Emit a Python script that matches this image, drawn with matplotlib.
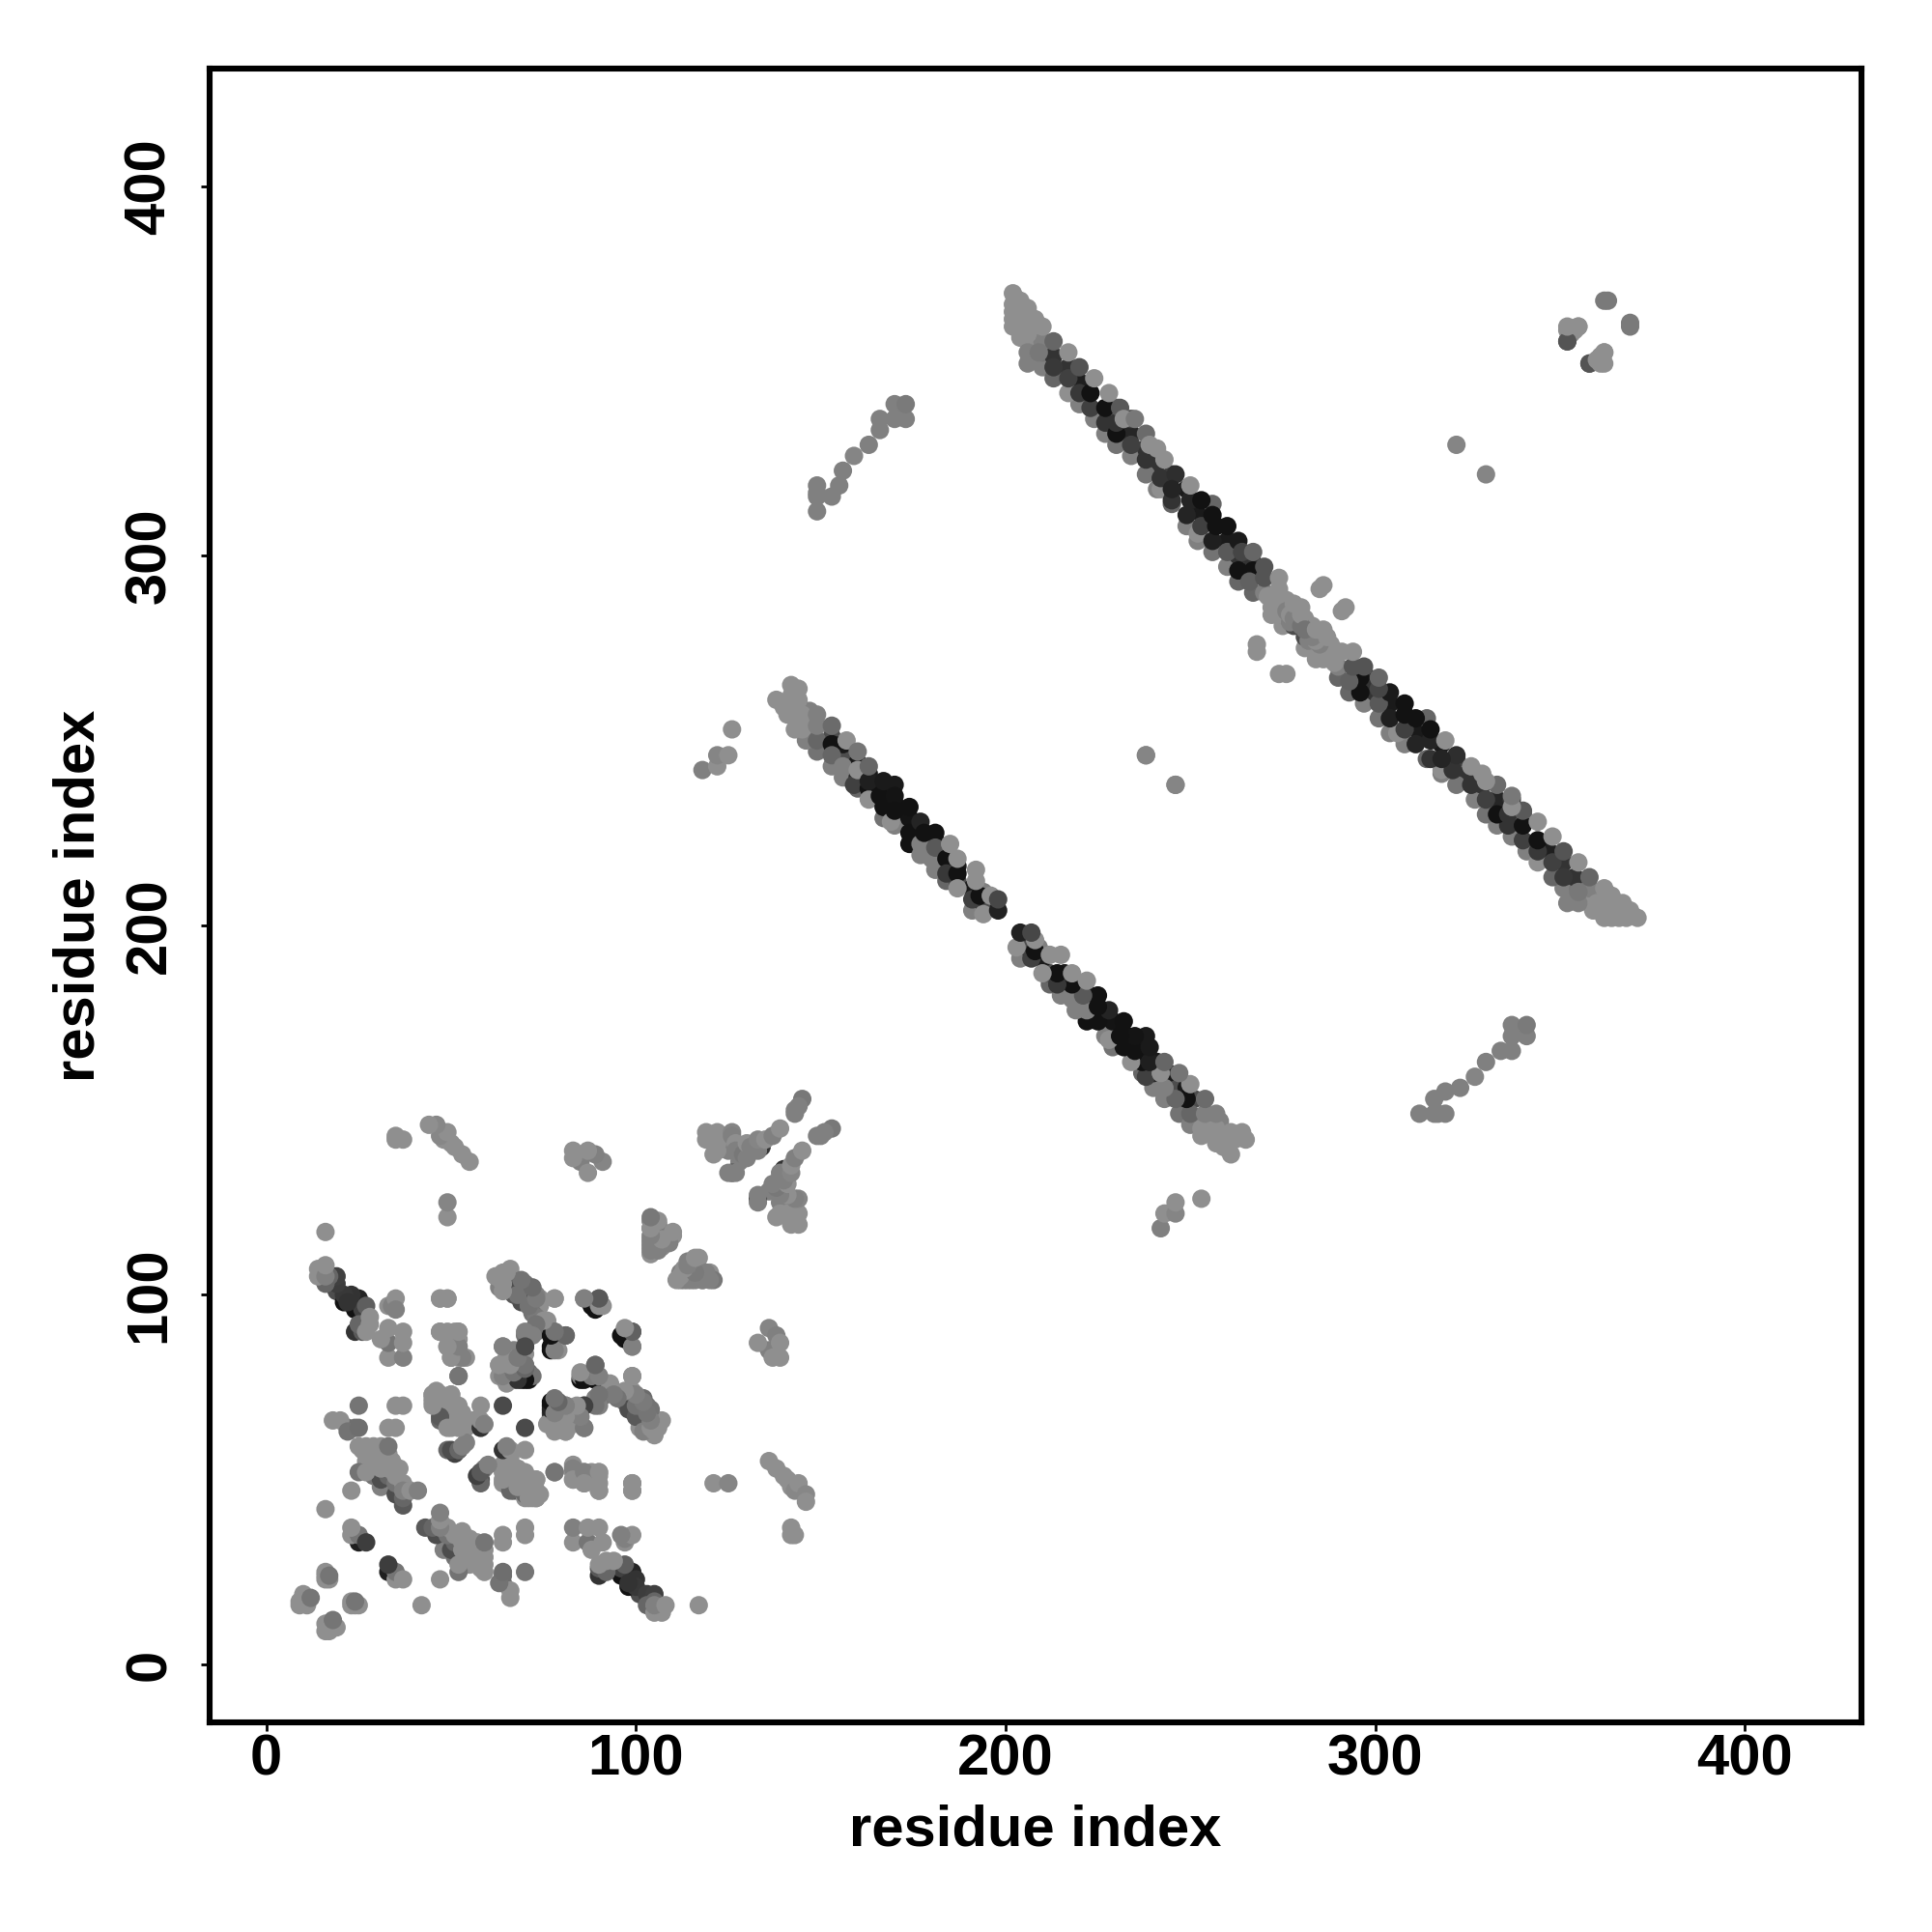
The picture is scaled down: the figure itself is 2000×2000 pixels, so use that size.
import matplotlib
matplotlib.use('Agg')
import matplotlib.pyplot as plt

# residue contacts, (i, j, grey level); the map is symmetric so only i < j is listed
L = 0.56
M = 0.46
D = 0.3
K = 0.07

# filled-in parts of the dense patches, drawn first
patch_under = [
    (46, 72, L), (48, 72, L), (50, 71, L), (48, 70, 0.5), (50, 69, L), (52, 68, L),
    (53, 68, L), (54, 66, L), (47, 69, 0.45), (49, 67, L), (51, 66, L), (53, 64, L),
    (55, 65, L), (26, 58, L), (28, 58, L), (30, 58, L), (28, 55, L), (30, 55, L),
    (32, 55, L), (28, 53, L), (29, 51, 0.45), (33, 49, 0.4), (35, 48, 0.35), (37, 48, 0.4),
    (34, 55, L), (27, 55, L), (31, 48, 0.5), (66, 50, L), (68, 49, L), (70, 48, 0.5),
    (72, 47, L), (72, 45, L), (74, 46, L), (69, 47, 0.45), (66, 48, L),
    (103, 68, 0.45), (105, 66, L), (103, 70, 0.45), (100, 71, 0.45), (101, 66, 0.4),
    (104, 63, L), (106, 64, L), (103, 66, L), (107, 66, L),
    (65, 103, L), (67, 103, 0.5), (72, 99, 0.45), (74, 99, L), (72, 101, 0.5),
    (65, 82, L), (66, 84, L), (67, 83, L), (65, 79, L), (68, 80, 0.5), (67, 77, 0.4),
    (105, 115, 0.5), (105, 118, 0.5), (107, 117, L), (109, 115, L), (106, 113, L),
    (113, 104, 0.5), (113, 107, 0.5), (115, 104, 0.5), (116, 107, L), (117, 105, L),
    (119, 105, L), (121, 138, L), (124, 141, L), (124, 143, L), (125, 139, 0.5),
    (128, 136, 0.5), (26, 92, 0.4), (18, 103, 0.4), (19, 101, 0.3),
]

# the two ends and the crossing of the sheets
sheet_ends_under = [
    (202, 364, L), (204, 366, L), (206, 358, L), (206, 365, L), (204, 362, L),
    (208, 360, L), (204, 359, L), (210, 356, L), (204, 369, L), (208, 364, L),
    (142, 262, L), (142, 258, L), (144, 256, L), (146, 255, L), (140, 259, L),
    (146, 252, L), (147, 258, 0.5), (148, 252, 0.5),
    (275, 281, L), (276, 282, L), (273, 288, L), (276, 288, L), (272, 284, L),
    (275, 284, 0.5), (278, 285, L), (279, 283, L), (281, 283, L),
]

corner_contacts = [
    (9, 16, L), (9, 17, L), (10, 19, L), (11, 16, L), (12, 18, M),
    (16, 23, L), (16, 24, L), (16, 25, L), (17, 23, L), (17, 24, M),
    (16, 42, L), (16, 117, L), (23, 47, L),
    (25, 33, 0.12), (23, 35, L), (25, 35, M), (23, 37, L), (27, 33, 0.24),
]

strand_14 = [
    (24, 96, K), (21, 98, K), (25, 99, 0.14), (23, 100, 0.2), (21, 100, 0.22),
    (19, 103, 0.24), (19, 105, 0.25), (26, 96, 0.25), (22, 98, 0.2),
    (24, 90, 0.2), (26, 90, 0.35), (25, 92, 0.4), (16, 103, 0.4), (17, 105, 0.4),
    (14, 105, L), (14, 107, L), (16, 105, 0.5), (16, 108, L), (27, 97, 0.37),
    (27, 90, L), (28, 92, L), (28, 94, L),
]

block_25_59 = [
    (25, 52, 0.45), (31, 50, 0.3), (35, 46, 0.3), (37, 43, 0.35), (33, 51, 0.4),
    (37, 45, 0.4), (35, 49, 0.45), (25, 59, L), (27, 59, L), (29, 59, L),
    (31, 59, L), (27, 57, L), (29, 57, L), (31, 57, L), (33, 57, L), (27, 52, L),
    (31, 53, L), (33, 53, L), (35, 51, L), (37, 49, L), (37, 47, 0.5), (36, 53, L),
    (39, 47, L), (33, 59, M), (41, 47, 0.5), (22, 64, 0.45), (24, 64, 0.43),
    (18, 66, L), (20, 66, L), (22, 63, 0.45), (25, 64, 0.43), (33, 64, L),
    (35, 64, L), (25, 70, M), (35, 70, L), (37, 70, L),
]

block_33_99 = [
    (33, 83, L), (33, 87, M), (37, 83, 0.5), (37, 87, L), (37, 90, L), (33, 91, L),
    (31, 88, L), (33, 97, L), (34, 97, 0.5), (35, 99, L), (35, 96, 0.5),
    (47, 90, L), (49, 90, L), (51, 90, L), (52, 90, L), (49, 86, L), (52, 86, 0.5),
    (52, 88, L), (50, 83, L), (52, 83, L), (54, 83, L), (47, 99, L), (49, 99, L),
    (52, 78, M), (49, 121, L), (49, 125, 0.52),
    (55, 136, L), (53, 138, L), (51, 140, L), (50, 141, L), (48, 142, L),
    (47, 143, 0.53), (49, 144, L), (46, 146, 0.53), (44, 146, L),
    (37, 142, L), (35, 142, L), (35, 143, L),
]

block_45_73 = [
    (47, 66, 0.4), (46, 70, 0.4), (51, 65, 0.4), (45, 73, L), (47, 73, L), (50, 73, L),
    (45, 71, L), (47, 71, L), (49, 70, L), (48, 68, L), (51, 68, L), (52, 70, L),
    (53, 66, L), (52, 66, L), (56, 66, L), (50, 64, L), (54, 64, L),
    (58, 64, 0.2), (58, 70, L), (58, 66, L), (59, 65, 0.5),
    (49, 58, 0.4), (51, 57, 0.25), (52, 58, 0.35), (54, 60, 0.5),
    (64, 70, 0.29), (58, 50, 0.3), (58, 52, 0.4), (59, 53, 0.5),
    (64, 52, L), (67, 47, 0.35), (67, 52, L), (70, 51, L), (64, 49, L),
    (73, 50, L), (73, 45, L), (70, 45, L), (73, 47, L), (78, 52, M),
    (83, 53, 0.5), (83, 50, L), (86, 52, 0.5), (90, 52, L), (90, 47, L), (86, 49, L),
    (99, 49, L), (99, 47, L),
]

block_63_106 = [
    (69, 98, 0.3), (67, 100, 0.35), (70, 100, 0.45), (63, 102, 0.5), (63, 105, L),
    (65, 106, L), (64, 104, L), (66, 104, 0.5), (68, 103, 0.46), (71, 102, 0.48),
    (73, 100, 0.5), (74, 97, L), (72, 95, 0.45), (74, 93, L), (76, 93, L),
    (73, 94, 0.48), (73, 90, 0.45), (70, 89, 0.45),
    (70, 86, 0.25), (64, 86, 0.48), (67, 85, 0.5), (70, 84, L),
    (63, 81, L), (63, 78, L), (67, 81, L), (66, 79, L), (65, 76, L), (69, 77, 0.15),
    (71, 77, K), (68, 78, 0.5), (70, 81, 0.5), (71, 79, 0.4), (72, 78, 0.45),
    (77, 86, K), (78, 88, 0.48), (78, 90, 0.5), (79, 85, L), (81, 89, 0.4),
    (78, 99, L), (89, 96, K), (86, 99, 0.5), (90, 99, 0.38), (91, 97, L),
    (97, 88, K), (97, 90, L), (99, 90, 0.35), (99, 86, 0.5), (99, 78, L),
    (85, 77, K), (85, 78, 0.5), (89, 77, K), (89, 81, 0.4), (90, 78, 0.45),
    (93, 75, L), (92, 73, 0.45), (89, 72, 0.5), (90, 70, 0.5),
    (77, 70, K), (77, 68, 0.2), (78, 64, 0.5), (79, 67, 0.45), (80, 70, 0.4), (81, 70, 0.45),
    (81, 63, L), (81, 66, L), (83, 65, L), (83, 68, 0.48), (86, 64, 0.5), (86, 70, 0.29),
    (98, 70, 0.3), (102, 67, 0.3), (97, 71, 0.45), (99, 73, 0.48), (100, 68, 0.45),
    (102, 72, 0.42), (101, 64, L), (103, 64, L), (105, 62, L), (104, 69, 0.45),
    (106, 65, L),
]

block_104_153 = [
    (104, 120, 0.5), (104, 118, 0.5), (104, 114, 0.5), (104, 111, L), (105, 112, L),
    (106, 119, 0.5), (106, 116, 0.48), (107, 113, L), (108, 114, 0.5), (110, 116, L),
    (112, 104, 0.5), (112, 106, 0.5), (114, 105, 0.5), (114, 109, 0.5), (115, 107, L),
    (116, 104, 0.5), (117, 110, L), (118, 104, L), (120, 106, L), (121, 104, 0.47),
    (136, 85, 0.5), (133, 87, L), (136, 91, 0.52), (138, 89, 0.5), (139, 87, L),
    (137, 83, L), (139, 83, L),
    (126, 133, 0.25), (125, 133, 0.5), (127, 133, 0.5), (119, 142, L), (119, 144, L),
    (122, 144, L), (122, 141, L), (122, 139, L), (126, 144, 0.52), (126, 143, 0.5),
    (127, 141, L), (127, 139, 0.5), (129, 138, 0.47), (130, 137, 0.5), (130, 141, L),
    (134, 140, 0.2), (131, 140, 0.5), (133, 139, 0.5), (133, 142, 0.52), (135, 142, L),
    (137, 143, 0.5), (139, 145, L), (143, 149, 0.5), (143, 150, 0.5),
    (145, 153, 0.47), (144, 151, 0.5),
]

far_contacts = [
    (118, 242, 0.5), (122, 243, L), (122, 246, 0.52), (125, 246, L), (126, 253, L),
    (238, 246, 0.52), (246, 238, 0.52), (322, 330, 0.52),
    (285, 291, L), (286, 292, L), (268, 274, L), (268, 276, L),
    (362, 369, 0.48), (363, 369, 0.48), (352, 358, 0.33), (352, 361, L),
    (354, 361, L), (355, 362, L), (353, 360, L), (358, 352, 0.33), (362, 355, L),
    (362, 352, L),
    (149, 312, 0.5), (149, 316, 0.5), (149, 317, 0.5), (149, 319, 0.5), (153, 316, 0.5),
    (155, 319, 0.5), (156, 323, 0.5), (159, 327, 0.52), (163, 330, 0.5), (166, 334, 0.5),
    (166, 337, 0.5), (170, 337, 0.5), (170, 341, 0.5), (173, 337, 0.5), (173, 341, 0.48),
]

# weaker and buried contacts of the two sheets, they sit under the ones further down
sheet_404_under = [
    (149, 247, 0.45), (146, 250, 0.5), (153, 251, 0.3), (153, 243, 0.5), (156, 246, 0.3),
    (156, 249, 0.1), (156, 240, 0.5), (160, 240, 0.15), (160, 244, 0.1), (160, 237, 0.4),
    (163, 241, 0.1), (167, 236, 0.1), (167, 229, 0.45), (170, 238, 0.1), (170, 233, K),
    (170, 227, 0.5), (174, 229, 0.08), (174, 222, K), (177, 225, K), (177, 219, 0.5),
    (181, 223, K), (181, 215, 0.5), (184, 220, 0.2), (184, 212, 0.4), (187, 216, 0.1),
    (187, 212, 0.3), (191, 210, 0.1), (191, 204, 0.5), (194, 206, 0.2), (194, 209, 0.5),
    (196, 205, 0.3),
]

sheet_404 = [
    (142, 265, L), (144, 264, L), (144, 261, L), (138, 261, L), (141, 257, L),
    (143, 253, L), (145, 253, L), (145, 257, L), (149, 250, 0.4), (149, 257, 0.5),
    (149, 254, 0.5), (153, 249, K), (153, 246, 0.4), (153, 254, 0.42), (156, 243, 0.5),
    (157, 250, L), (159, 238, 0.25), (160, 242, L), (160, 247, M), (163, 237, K),
    (163, 234, L), (163, 239, 0.12), (163, 243, 0.4), (166, 235, K), (167, 232, K),
    (167, 239, 0.1), (170, 235, 0.08), (169, 228, L), (170, 231, K), (174, 232, K),
    (174, 225, K), (177, 222, 0.5), (177, 228, 0.14), (178, 225, K), (181, 225, K),
    (180, 218, 0.5), (181, 221, 0.35), (184, 218, K), (184, 214, 0.22), (185, 222, L),
    (187, 214, K), (187, 210, L), (187, 218, L), (191, 207, 0.25), (193, 208, K),
    (192, 212, L), (192, 215, L), (194, 203, L), (196, 208, L), (198, 204, 0.13),
    (198, 207, 0.28),
]

sheet_568_under = [
    (206, 352, 0.5), (210, 351, 0.5), (210, 355, 0.45), (210, 358, 0.5), (213, 354, 0.2),
    (213, 348, 0.4), (217, 351, 0.2), (220, 347, 0.12), (220, 341, 0.5), (224, 337, 0.5),
    (227, 333, 0.5), (230, 330, 0.45), (230, 340, 0.4), (234, 333, 0.15), (234, 327, 0.5),
    (234, 337, 0.25), (238, 329, 0.2), (241, 325, 0.2), (241, 318, 0.5), (245, 322, 0.25),
    (245, 314, 0.4), (249, 308, 0.5), (249, 318, 0.1), (252, 312, 0.1), (252, 304, 0.5),
    (256, 301, 0.45), (256, 314, 0.4), (260, 297, 0.5), (260, 304, 0.1), (263, 293, 0.4),
    (263, 300, 0.2), (267, 290, 0.4), (267, 298, 0.2), (270, 290, 0.5),
]

sheet_568 = [
    (202, 362, L), (202, 366, L), (202, 368, L), (202, 371, L), (206, 355, 0.5),
    (206, 360, L), (206, 363, L), (206, 367, L), (209, 355, 0.47), (210, 362, L),
    (213, 351, 0.22), (213, 358, 0.4), (217, 344, L), (217, 348, 0.25), (217, 355, L),
    (220, 344, 0.22), (220, 351, 0.33), (223, 340, 0.25), (223, 344, K), (224, 348, L),
    (227, 336, 0.2), (227, 340, K), (228, 344, L), (230, 333, K), (230, 336, 0.2),
    (231, 340, 0.35), (232, 337, L), (235, 337, 0.47), (234, 330, 0.25), (238, 322, 0.46),
    (238, 326, 0.2), (238, 333, 0.42), (239, 330, L), (241, 329, L), (243, 326, L),
    (242, 318, L), (242, 321, 0.2), (246, 322, 0.18), (245, 315, 0.2), (245, 318, 0.14),
    (249, 311, 0.14), (250, 315, 0.14), (250, 319, L), (252, 306, L), (253, 308, 0.25),
    (253, 315, K), (256, 304, 0.12), (256, 311, K), (257, 308, K), (260, 308, K),
    (260, 301, 0.35), (263, 296, K), (263, 304, 0.1), (264, 301, 0.27), (267, 296, K),
    (266, 293, 0.38), (267, 301, 0.4), (270, 294, 0.33), (270, 297, 0.33), (274, 291, L),
    (274, 294, L), (271, 289, L), (272, 286, L), (274, 287, L), (278, 281, 0.3),
    (274, 284, L), (276, 285, 0.5), (277, 282, 0.5), (277, 284, L), (278, 283, 0.5),
    (278, 287, L), (280, 281, 0.45), (280, 284, L), (280, 286, L),
]

groups = [patch_under, sheet_ends_under, corner_contacts, strand_14, block_25_59,
          block_33_99, block_45_73, block_63_106, block_104_153, far_contacts,
          sheet_404_under, sheet_404, sheet_568_under, sheet_568]

tick_values = [0, 100, 200, 300, 400]
font = ['Liberation Sans', 'DejaVu Sans']

fig = plt.figure(figsize=(10, 10), dpi=200)
ax = fig.add_axes([0.1084, 0.1085, 0.8551, 0.8558])

for contacts in groups:
    # i, j then j, i
    xs = [c[0] for c in contacts] + [c[1] for c in contacts]
    ys = [c[1] for c in contacts] + [c[0] for c in contacts]
    greys = [str(c[2]) for c in contacts] * 2
    ax.scatter(xs, ys, c=greys, s=47, linewidths=0, zorder=3)

ax.set_xlim(-15.4, 431.6)
ax.set_ylim(-15.7, 431.7)

for spine in ax.spines.values():
    spine.set_linewidth(2.2)

ax.set_xticks(tick_values)
ax.set_yticks(tick_values)
ax.tick_params(length=3.2, width=1, labelsize=21.5)
ax.tick_params(axis='x', pad=1)
ax.tick_params(axis='y', pad=9)
for lab in ax.get_xticklabels():
    lab.set_fontfamily(font)
    lab.set_fontweight('bold')
for lab in ax.get_yticklabels():
    lab.set_fontfamily(font)
    lab.set_fontweight('bold')
    lab.set_rotation(90)
    lab.set_verticalalignment('center')

ax.set_xlabel('residue index', fontsize=21.5, fontweight='bold', family=font, labelpad=6.5)
ax.set_ylabel('residue index', fontsize=21.5, fontweight='bold', family=font, labelpad=6.7)

plt.savefig('out.png', dpi=200)
